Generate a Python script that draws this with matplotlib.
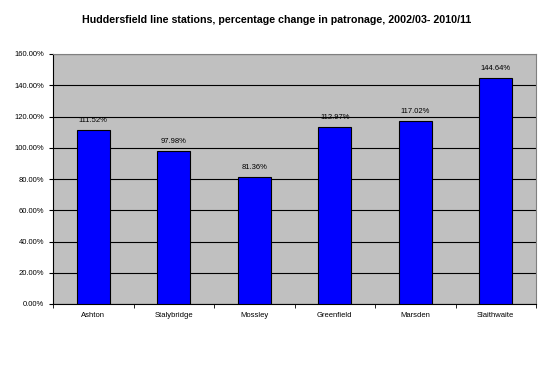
import matplotlib
matplotlib.use("Agg")
import matplotlib.pyplot as plt
from matplotlib.ticker import FuncFormatter

stations = ["Ashton", "Stalybridge", "Mossley", "Greenfield", "Marsden", "Slaithwaite"]
changes = [111.52, 97.98, 81.36, 112.97, 117.02, 144.64]
value_labels = ["111.52%", "97.98%", "81.36%", "112.97%", "117.02%", "144.64%"]

plt.rcParams["font.family"] = ["Liberation Sans", "DejaVu Sans"]

fig = plt.figure(figsize=(5.53, 3.84), dpi=100)
ax = fig.add_axes([53 / 553, 1 - 304 / 384, (536 - 53) / 553, (304 - 54) / 384])
ax.set_facecolor("#C0C0C0")

x = list(range(len(stations)))
ax.bar(x, changes, width=0.41, color="#0000FF", edgecolor="black", linewidth=0.8, zorder=3)
for xi, v, lab in zip(x, changes, value_labels):
    ax.text(xi, v + 4, lab, ha="center", va="bottom", fontsize=5.5, zorder=4)

ax.set_xlim(-0.5, len(stations) - 0.5)
ax.set_ylim(0, 160)
ax.set_yticks(range(0, 161, 20))
ax.yaxis.set_major_formatter(FuncFormatter(lambda v, p: f"{v:.2f}%"))
ax.set_xticks(x)
ax.set_xticklabels(stations)
ax.set_xticks([i - 0.5 for i in range(len(stations) + 1)], minor=True)
ax.tick_params(axis="x", which="major", length=0, labelsize=5.5, pad=6)
ax.tick_params(axis="x", which="minor", length=3, direction="out")
ax.tick_params(axis="y", labelsize=5.5, length=3, direction="out")
ax.grid(axis="y", color="black", linewidth=0.8, zorder=1)
for side in ["top", "right"]:
    ax.spines[side].set_color("#808080")
ax.spines["left"].set_color("black")
ax.spines["bottom"].set_color("black")

fig.text(0.5, 1 - 20 / 384, "Huddersfield line stations, percentage change in patronage, 2002/03- 2010/11",
         ha="center", va="center", fontsize=7.7, fontweight="bold")

fig.savefig("out.png", dpi=100)
